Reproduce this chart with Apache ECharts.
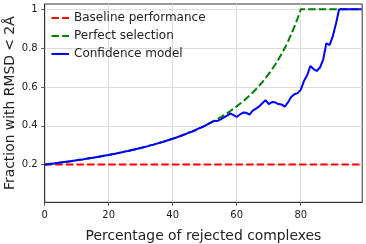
<!DOCTYPE html>
<html>
<head>
<meta charset="utf-8">
<script src="https://cdn.jsdelivr.net/npm/echarts@6/dist/echarts.min.js"></script>
<style>html,body{margin:0;padding:0;background:#fff}#c{width:366px;height:244px}</style>
</head>
<body>
<div id="c"></div>
<script>
var xValues = [];
for (var i = 0; i <= 99; i++) xValues.push(i);

var baseline = [0.2,0.2,0.2,0.2,0.2,0.2,0.2,0.2,0.2,0.2,0.2,0.2,0.2,0.2,0.2,0.2,0.2,0.2,0.2,0.2,
0.2,0.2,0.2,0.2,0.2,0.2,0.2,0.2,0.2,0.2,0.2,0.2,0.2,0.2,0.2,0.2,0.2,0.2,0.2,0.2,
0.2,0.2,0.2,0.2,0.2,0.2,0.2,0.2,0.2,0.2,0.2,0.2,0.2,0.2,0.2,0.2,0.2,0.2,0.2,0.2,
0.2,0.2,0.2,0.2,0.2,0.2,0.2,0.2,0.2,0.2,0.2,0.2,0.2,0.2,0.2,0.2,0.2,0.2,0.2,0.2,
0.2,0.2,0.2,0.2,0.2,0.2,0.2,0.2,0.2,0.2,0.2,0.2,0.2,0.2,0.2,0.2,0.2,0.2,0.2,0.2];

var perfect = [0.200,0.202,0.204,0.206,0.208,0.211,0.213,0.215,0.217,0.220,
0.222,0.225,0.227,0.230,0.233,0.235,0.238,0.241,0.244,0.247,
0.250,0.253,0.256,0.260,0.263,0.267,0.270,0.274,0.278,0.282,
0.286,0.290,0.294,0.299,0.303,0.308,0.313,0.317,0.323,0.328,
0.333,0.339,0.345,0.351,0.357,0.364,0.370,0.377,0.385,0.392,
0.400,0.408,0.417,0.426,0.435,0.444,0.455,0.465,0.476,0.488,
0.500,0.513,0.526,0.541,0.556,0.571,0.588,0.606,0.625,0.645,
0.667,0.690,0.714,0.741,0.769,0.800,0.833,0.870,0.909,0.952,
1,1,1,1,1,1,1,1,1,1,
1,1,1,1,1,1,1,1,1,1];

var confidence = [0.200,0.202,0.204,0.206,0.208,0.211,0.213,0.215,0.217,0.220,
0.222,0.225,0.227,0.230,0.233,0.235,0.238,0.241,0.244,0.247,
0.250,0.253,0.256,0.260,0.263,0.267,0.270,0.274,0.278,0.282,
0.286,0.290,0.294,0.299,0.303,0.308,0.313,0.317,0.323,0.328,
0.334,0.339,0.345,0.351,0.357,0.364,0.370,0.377,0.385,0.392,
0.400,0.408,0.417,0.425,0.425,0.433,0.443,0.452,0.464,0.455,
0.446,0.458,0.468,0.467,0.458,0.478,0.488,0.500,0.516,0.532,
0.512,0.522,0.521,0.512,0.510,0.499,0.520,0.548,0.562,0.568,
0.585,0.630,0.660,0.708,0.692,0.682,0.700,0.740,0.825,0.815,
0.860,0.925,1,1,1,1,1,1,1,1];

var xTicks = [0, 20, 40, 60, 80];
var yTicks = [0.2, 0.4, 0.6, 0.8, 1];

function pairs(ys) { return xValues.map(function (x, i) { return [x, ys[i]]; }); }

var FONT = 'DejaVu Sans';
var TXT = '#222';
var chart = echarts.init(document.getElementById('c'), null, {renderer: 'canvas'});
chart.setOption({
  animation: false,
  backgroundColor: '#fff',
  textStyle: {fontFamily: FONT},
  grid: {left: 44.7, right: 3.8, top: 4, bottom: 41.7, containLabel: false, outerBoundsMode: 'none',
         show: true, borderColor: '#333', borderWidth: 1, backgroundColor: 'transparent'},
  legend: {
    orient: 'vertical', left: 50.5, top: 12, padding: 0,
    itemWidth: 17.5, itemHeight: 12, itemGap: 6,
    itemStyle: {color: 'transparent', borderWidth: 0, opacity: 0},
    textStyle: {fontFamily: FONT, fontSize: 12, color: TXT},
    data: ['Baseline performance', 'Perfect selection', 'Confidence model']
  },
  xAxis: {
    type: 'value', min: 0, max: 99.2,
    name: 'Percentage of rejected complexes', nameLocation: 'middle', nameGap: 27,
    nameTextStyle: {fontFamily: FONT, fontSize: 13.9, color: TXT},
    axisLine: {show: true, lineStyle: {color: '#333', width: 1}},
    axisTick: {show: true, length: 3.5, customValues: xTicks, lineStyle: {color: '#555'}},
    axisLabel: {customValues: xTicks, margin: 8, fontFamily: FONT, fontSize: 10, color: TXT},
    splitLine: {show: true, lineStyle: {color: '#dcdcdc', width: 1}}
  },
  yAxis: {
    type: 'value', min: 0.006, max: 1.027,
    name: 'Fraction with RMSD < 2Å', nameLocation: 'middle', nameGap: 27, nameMoveOverlap: false,
    nameTextStyle: {fontFamily: FONT, fontSize: 13.9, color: TXT},
    axisLine: {show: true, lineStyle: {color: '#333', width: 1}},
    axisTick: {show: true, length: 3.5, customValues: yTicks, lineStyle: {color: '#555'}},
    axisLabel: {customValues: yTicks, margin: 7, fontFamily: FONT, fontSize: 10, color: TXT,
      formatter: function (v) { return v === 1 ? '1' : v.toFixed(1); }},
    splitLine: {show: true, lineStyle: {color: '#dcdcdc', width: 1}}
  },
  series: [
    {name: 'Baseline performance', type: 'line', data: pairs(baseline), symbol: 'none',
     lineStyle: {color: '#ff0000', width: 2, type: [7.4, 3.2]}, itemStyle: {color: '#ff0000'}, z: 2},
    {name: 'Perfect selection', type: 'line', data: pairs(perfect), symbol: 'none',
     lineStyle: {color: '#008000', width: 2, type: [7.4, 3.2]}, itemStyle: {color: '#008000'}, z: 3},
    {name: 'Confidence model', type: 'line', data: pairs(confidence), symbol: 'none',
     lineStyle: {color: '#0000ff', width: 2}, itemStyle: {color: '#0000ff'}, z: 4}
  ]
});
</script>
</body>
</html>
